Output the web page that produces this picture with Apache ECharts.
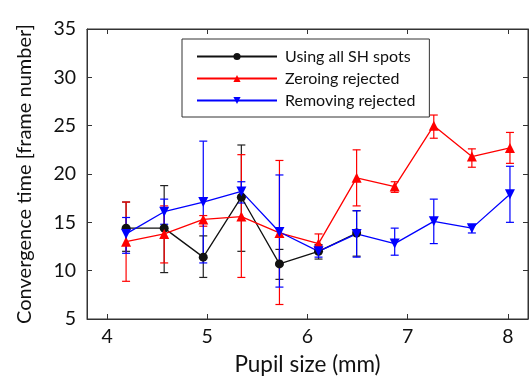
<!DOCTYPE html>
<html>
<head>
<meta charset="utf-8">
<script src="https://cdn.jsdelivr.net/npm/echarts@6/dist/echarts.min.js"></script>
<style>
  html, body { margin: 0; padding: 0; background: #fff; }
  #chart { width: 532px; height: 381px; }
</style>
</head>
<body>
<div id="chart"></div>
<script>
// pupil sizes (mm)
const pupil = [4.19, 4.57, 4.96, 5.34, 5.72, 6.11, 6.49, 6.87, 7.26, 7.64, 8.02];
const xTicks = [4, 5, 6, 7, 8];
const yTicks = [5, 10, 15, 20, 25, 30, 35];

// Using all SH spots (first 7 sizes only)
const allMean = [14.4, 14.4, 11.4, 17.6, 10.7, 12.0, 13.9];
const allLow  = [12.0, 9.8, 9.3, 12.0, 9.1, 11.2, 11.5];
const allHigh = [17.1, 18.8, 13.6, 23.0, 12.2, 12.7, 16.2];

// Zeroing rejected
const zeroMean = [13.0, 13.8, 15.3, 15.6, 13.9, 12.8, 19.6, 18.7, 25.0, 21.8, 22.7];
const zeroLow  = [8.9, 10.8, 14.6, 9.3, 6.5, 12.0, 16.7, 18.1, 23.7, 20.7, 21.1];
const zeroHigh = [17.1, 16.7, 15.7, 22.0, 21.4, 13.8, 22.5, 19.2, 26.1, 22.6, 24.3];

// Removing rejected
const remMean = [13.8, 16.1, 17.1, 18.2, 14.0, 12.0, 13.8, 12.8, 15.1, 14.4, 17.9];
const remLow  = [11.8, 14.8, 10.8, 17.0, 8.3, 11.4, 11.4, 11.6, 12.8, 13.9, 15.0];
const remHigh = [15.5, 17.4, 23.4, 19.2, 19.9, 12.6, 16.2, 14.4, 17.4, 14.7, 20.8];

const FONT = "Lato";

function pairs(xs, ys) {
  return ys.map((y, i) => [xs[i], y]);
}
function bars(xs, lo, hi) {
  return lo.map((l, i) => [xs[i], l, hi[i]]);
}

function errorSeries(id, color, data) {
  return {
    type: "custom",
    id: id,
    data: data,
    encode: { x: 0, y: [1, 2] },
    silent: true,
    z: 1,
    renderItem: function (params, api) {
      const x = api.value(0);
      const lo = api.coord([x, api.value(1)]);
      const hi = api.coord([x, api.value(2)]);
      const w = 4;
      const st = { stroke: color, lineWidth: 1.2 };
      return {
        type: "group",
        children: [
          { type: "line", shape: { x1: lo[0], y1: lo[1], x2: hi[0], y2: hi[1] }, style: st },
          { type: "line", shape: { x1: lo[0] - w, y1: lo[1], x2: lo[0] + w, y2: lo[1] }, style: st },
          { type: "line", shape: { x1: hi[0] - w, y1: hi[1], x2: hi[0] + w, y2: hi[1] }, style: st },
        ],
      };
    },
  };
}

function lineSeries(name, color, symbol, data) {
  return {
    type: "line",
    name: name,
    data: data,
    symbol: symbol,
    symbolSize: symbol === "circle" ? 9 : 10,
    lineStyle: { color: color, width: 1.3 },
    itemStyle: { color: color },
    z: 3,
  };
}

const downTri = "path://M0,0 L10,0 L5,9 Z";
const upTri = "path://M5,0 L10,9 L0,9 Z";

const chart = echarts.init(document.getElementById("chart"), null, { renderer: "canvas" });

const axisLine = { lineStyle: { color: "#333", width: 1 } };
const tick = { show: true, inside: true, length: 5, lineStyle: { color: "#333" } };

chart.setOption({
  animation: false,
  textStyle: { fontFamily: FONT },
  grid: { left: 87, right: 4, top: 29, bottom: 61, show: true, borderColor: "#333", borderWidth: 1 },
  legend: {
    orient: "vertical",
    left: 182,
    top: 39,
    width: 249,
    padding: [8, 14, 7, 14],
    itemGap: 3,
    itemWidth: 80,
    itemHeight: 9,
    borderColor: "#333",
    borderWidth: 1,
    backgroundColor: "#fff",
    data: ["Using all SH spots", "Zeroing rejected", "Removing rejected"],
    textStyle: { color: "#111", fontSize: 16, lineHeight: 19, fontFamily: FONT, padding: [0, 0, 0, 3] },
  },
  xAxis: [
    {
      type: "value",
      min: 3.8,
      max: 8.2,
      name: "Pupil size (mm)",
      nameLocation: "middle",
      nameGap: 34,
      nameTextStyle: { color: "#111", fontSize: 22.5, fontFamily: FONT },
      axisLine: axisLine,
      axisTick: Object.assign({ customValues: xTicks }, tick),
      axisLabel: { color: "#111", fontSize: 19.5, margin: 8, customValues: xTicks },
      splitLine: { show: false },
    },
    {
      type: "value",
      position: "top",
      min: 3.8,
      max: 8.2,
      axisLine: axisLine,
      axisTick: Object.assign({ customValues: xTicks }, tick),
      axisLabel: { show: false },
      splitLine: { show: false },
    },
  ],
  yAxis: [
    {
      type: "value",
      min: 5,
      max: 35,
      interval: 5,
      name: "Convergence time [frame number]",
      nameLocation: "middle",
      nameGap: 52,
      nameTextStyle: { color: "#111", fontSize: 20, fontFamily: FONT },
      axisLine: { show: true, lineStyle: { color: "#333" } },
      axisTick: tick,
      axisLabel: { color: "#111", fontSize: 19.5, margin: 11, customValues: yTicks },
      splitLine: { show: false },
    },
    {
      type: "value",
      position: "right",
      min: 5,
      max: 35,
      interval: 5,
      axisLine: { show: true, lineStyle: { color: "#333" } },
      axisTick: tick,
      axisLabel: { show: false },
      splitLine: { show: false },
    },
  ],
  series: [
    errorSeries("errAll", "#222", bars(pupil, allLow, allHigh)),
    errorSeries("errZero", "#f00", bars(pupil, zeroLow, zeroHigh)),
    errorSeries("errRem", "#00f", bars(pupil, remLow, remHigh)),
    lineSeries("Using all SH spots", "#111", "circle", pairs(pupil, allMean)),
    lineSeries("Zeroing rejected", "#f00", upTri, pairs(pupil, zeroMean)),
    lineSeries("Removing rejected", "#00f", downTri, pairs(pupil, remMean)),
  ],
});
</script>
</body>
</html>
